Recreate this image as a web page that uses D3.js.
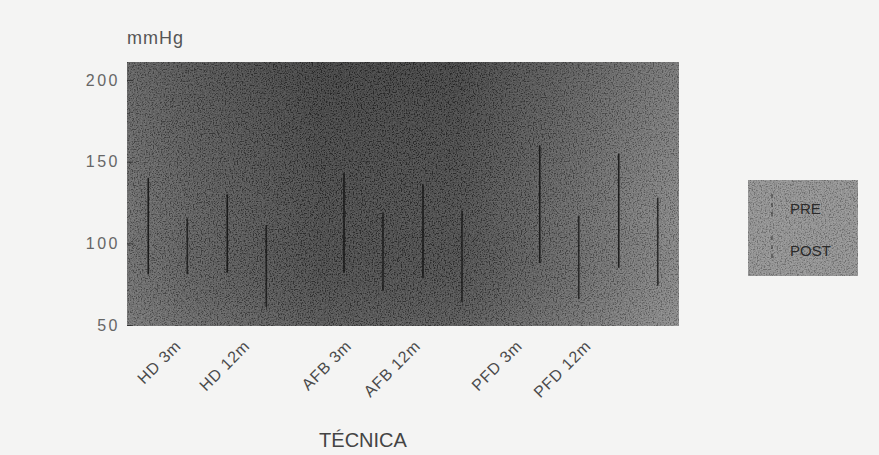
<!DOCTYPE html>
<html>
<head>
<meta charset="utf-8">
<script src="https://cdn.jsdelivr.net/npm/d3@7/dist/d3.min.js"></script>
<style>
  html, body { margin: 0; padding: 0; background: #f4f4f3; }
  svg { display: block; }
  text { font-family: "Liberation Sans", Arial, sans-serif; }
</style>
</head>
<body>
<div id="chart"></div>
<script>
// categories (technique + follow-up time)
const categories = ["HD 3m", "HD 12m", "AFB 3m", "AFB 12m", "PFD 3m", "PFD 12m"];
const techniques = ["HD", "AFB", "PFD"];
const times = ["3m", "12m"];
const series = ["PRE", "POST"];

// range bars (mmHg), low / high per category
const preLow = [81, 82, 82, 79, 88, 85];
const preHigh = [140, 130, 143, 136, 160, 155];
const postLow = [81, 61, 71, 64, 66, 74];
const postHigh = [115, 111, 119, 120, 117, 128];

const yTicks = [50, 100, 150, 200];

const width = 879, height = 455;
const plot = { left: 127, right: 679, top: 62, bottom: 326 };

const svg = d3.select('#chart').append('svg')
  .attr('width', width)
  .attr('height', height);

const defs = svg.append('defs');

// scanned-paper look: gradient + grain
const grad = defs.append('linearGradient').attr('id', 'bg').attr('x1', 0).attr('x2', 1).attr('y1', 0).attr('y2', 0);
[[0, '#5e5e5e'], [0.1, '#4f4f4f'], [0.35, '#353535'], [0.6, '#383838'], [0.78, '#545454'], [1, '#7a7a7a']]
  .forEach(s => grad.append('stop').attr('offset', s[0]).attr('stop-color', s[1]));

const vgrad = defs.append('linearGradient').attr('id', 'vshade').attr('x1', 0).attr('x2', 0).attr('y1', 0).attr('y2', 1);
vgrad.append('stop').attr('offset', 0).attr('stop-color', '#000').attr('stop-opacity', 0.1);
vgrad.append('stop').attr('offset', 0.6).attr('stop-color', '#000').attr('stop-opacity', 0);
vgrad.append('stop').attr('offset', 1).attr('stop-color', '#fff').attr('stop-opacity', 0.06);

const grain = defs.append('filter').attr('id', 'grain')
  .attr('x', 0).attr('y', 0).attr('width', 1).attr('height', 1);
grain.append('feTurbulence').attr('type', 'fractalNoise')
  .attr('baseFrequency', 0.75).attr('numOctaves', 2).attr('seed', 4);
grain.append('feColorMatrix').attr('type', 'matrix')
  .attr('values', '3 0 0 0 -1  3 0 0 0 -1  3 0 0 0 -1  0 0 0 0 1');

// scales
const y = d3.scaleLinear().domain([50, 211]).range([325, plot.top]);
const xTech = d3.scalePoint().domain(techniques).range([plot.left, plot.right]).padding(0.41);
const xTime = d3.scalePoint().domain(times).range([-39.5, 39.5]);
const xSeries = d3.scalePoint().domain(series).range([-19.5, 19.5]);

const catX = i => {
  const [tech, t] = categories[i].split(' ');
  return xTech(tech) + xTime(t);
};
// tick labels sit a bit compressed relative to the bars in the original
const labelX = d3.scaleLinear().domain([catX(0), catX(categories.length - 1)]).range([182, 592]);

// plot background
const pw = plot.right - plot.left, ph = plot.bottom - plot.top;
const g = svg.append('g');
g.append('rect')
  .attr('x', plot.left).attr('y', plot.top)
  .attr('width', pw).attr('height', ph)
  .attr('fill', 'url(#bg)');
g.append('rect')
  .attr('x', plot.left).attr('y', plot.top)
  .attr('width', pw).attr('height', ph)
  .attr('filter', 'url(#grain)')
  .attr('opacity', 0.2);
g.append('rect')
  .attr('x', plot.left).attr('y', plot.top)
  .attr('width', pw).attr('height', ph)
  .attr('fill', 'url(#vshade)');

// y axis
const yAxis = d3.axisLeft(y).tickValues(yTicks).tickSizeInner(-6).tickSizeOuter(0).tickPadding(7);
const ya = svg.append('g')
  .attr('transform', `translate(${plot.left},0)`)
  .call(yAxis);
ya.select('.domain').remove();
ya.selectAll('.tick line').attr('stroke', '#222').attr('stroke-opacity', 0.7);
ya.selectAll('.tick text')
  .attr('fill', '#666')
  .style('font-size', '16px')
  .style('letter-spacing', '2.5px')
  .style('font-family', '"Liberation Sans", Arial, sans-serif');

// range bars
const bars = [];
categories.forEach((c, i) => {
  bars.push({ cat: i, s: 'PRE', lo: preLow[i], hi: preHigh[i] });
  bars.push({ cat: i, s: 'POST', lo: postLow[i], hi: postHigh[i] });
});

svg.append('g').selectAll('line')
  .data(bars)
  .enter().append('line')
  .attr('x1', d => catX(d.cat) + xSeries(d.s))
  .attr('x2', d => catX(d.cat) + xSeries(d.s))
  .attr('y1', d => y(d.hi))
  .attr('y2', d => y(d.lo))
  .attr('stroke', '#101010')
  .attr('stroke-width', 1.6)
  .attr('stroke-opacity', d => d.s === 'PRE' ? 0.85 : 0.75);

// x tick labels
svg.append('g').selectAll('text')
  .data(categories)
  .enter().append('text')
  .attr('transform', (d, i) => `translate(${labelX(catX(i))},347) rotate(-45)`)
  .attr('text-anchor', 'end')
  .attr('fill', '#4a4a4a')
  .style('font-size', '16px')
  .style('letter-spacing', '0.8px')
  .text(d => d);

// axis titles
svg.append('text')
  .attr('x', 127).attr('y', 44)
  .attr('fill', '#555')
  .style('font-size', '18px')
  .style('letter-spacing', '1px')
  .text('mmHg');

svg.append('text')
  .attr('x', 363).attr('y', 447)
  .attr('text-anchor', 'middle')
  .attr('fill', '#444')
  .style('font-size', '20px')
  .text('TÉCNICA');

// legend
const lg = svg.append('g').attr('transform', 'translate(748,180)');
lg.append('rect')
  .attr('width', 110).attr('height', 96)
  .attr('fill', '#8a8a8a');
lg.append('rect')
  .attr('width', 110).attr('height', 96)
  .attr('filter', 'url(#grain)')
  .attr('opacity', 0.18);
series.forEach((s, i) => {
  lg.append('line')
    .attr('x1', 24).attr('x2', 24)
    .attr('y1', 14 + i * 42).attr('y2', 40 + i * 42)
    .attr('stroke', '#222')
    .attr('stroke-width', 1.2)
    .attr('stroke-dasharray', '4,5')
    .attr('stroke-opacity', 0.7);
  lg.append('text')
    .attr('x', 42).attr('y', 34 + i * 42)
    .attr('fill', '#2a2a2a')
    .style('font-size', '15px')
    .text(s);
});
</script>
</body>
</html>
